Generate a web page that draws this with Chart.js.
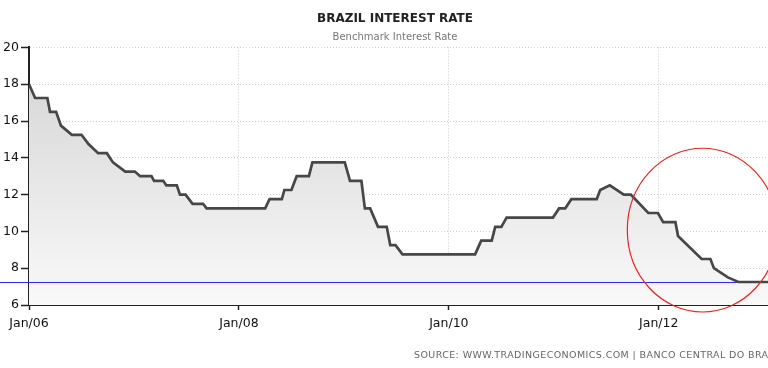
<!DOCTYPE html>
<html>
<head>
<meta charset="utf-8">
<script src="https://cdn.jsdelivr.net/npm/chart.js@4.4.0/dist/chart.umd.min.js"></script>
<style>
  html, body { margin: 0; padding: 0; background: #fff; overflow: hidden; }
  #wrap { position: relative; width: 796px; height: 368px; }
  #source { position: absolute; left: 414px; top: 349px; font: 9.5px 'DejaVu Sans'; color: #666; white-space: nowrap; letter-spacing: 0.4px; }
</style>
</head>
<body>
<div id="wrap">
  <canvas id="myChart" width="796" height="368"></canvas>
  <div id="source">SOURCE: WWW.TRADINGECONOMICS.COM | BANCO CENTRAL DO BRASIL</div>
</div>
<script>

// months since Jan/06 at each corner of the line
var months = [0, 0.7, 2.1, 2.4, 3.1, 3.65, 4.9, 6.0, 6.8, 7.9, 8.9, 9.6, 11.0, 12.1, 12.7, 14.0, 14.3,
  15.35, 15.7, 16.9, 17.26, 17.9, 18.7, 19.9, 20.3, 27.0, 27.5, 28.9, 29.2, 30.0, 30.6, 32.0, 32.4,
  36.1, 36.7, 38.0, 38.4, 39.0, 39.9, 40.9, 41.3, 41.9, 42.7, 51.0, 51.7, 52.9, 53.3, 54.0, 54.6,
  59.9, 60.6, 61.3, 62.0, 64.9, 65.3, 66.4, 68.0, 68.8, 70.8, 71.9, 72.5, 73.9, 74.2, 76.9, 77.9,
  78.3, 79.9, 81.1, 87]
var rates = [18, 17.25, 17.25, 16.5, 16.5, 15.75, 15.25, 15.25, 14.75, 14.25, 14.25, 13.75, 13.25, 13.25, 13.0, 13.0, 12.75,
  12.75, 12.5, 12.5, 12.0, 12.0, 11.5, 11.5, 11.25, 11.25, 11.75, 11.75, 12.25, 12.25, 13.0, 13.0, 13.75,
  13.75, 12.75, 12.75, 11.25, 11.25, 10.25, 10.25, 9.25, 9.25, 8.75, 8.75, 9.5, 9.5, 10.25, 10.25, 10.75,
  10.75, 11.25, 11.25, 11.75, 11.75, 12.25, 12.5, 12.0, 12.0, 11.0, 11.0, 10.5, 10.5, 9.75, 8.5, 8.5,
  8.0, 7.5, 7.25, 7.25]

var xTicks = [0, 24, 48, 72]   // Jan/06, Jan/08, Jan/10, Jan/12
var xMax = 87
var yMin = 6, yMax = 20, yStep = 2

var targetRate = 7.25                 // blue line
var circleAt = [77.0, 10.07, 8.6, 4.45] // red ring: month, rate, radius in months, radius in rate

var points = months.map((m, i) => ({x: m, y: rates[i]}))

var marks = {
  id: 'marks',
  beforeDatasetsDraw(chart){
    var ctx = chart.ctx
    var y = Math.round(chart.scales.y.getPixelForValue(targetRate)) + 0.5
    ctx.save()
    ctx.strokeStyle = '#2b2bff'
    ctx.lineWidth = 1
    ctx.beginPath()
    ctx.moveTo(0, y)
    ctx.lineTo(chart.width, y)
    ctx.stroke()
    ctx.restore()
  },
  afterDraw(chart){
    var ctx = chart.ctx
    var sx = chart.scales.x, sy = chart.scales.y
    var cx = sx.getPixelForValue(circleAt[0])
    var cy = sy.getPixelForValue(circleAt[1])
    var rx = sx.getPixelForValue(circleAt[0] + circleAt[2]) - cx
    var ry = cy - sy.getPixelForValue(circleAt[1] + circleAt[3])
    ctx.save()
    ctx.strokeStyle = '#e8251f'
    ctx.lineWidth = 1.2
    ctx.beginPath()
    ctx.ellipse(cx, cy, rx, ry, 0, 0, 2 * Math.PI)
    ctx.stroke()
    ctx.restore()
  }
}

var tickFont = {family: 'DejaVu Sans', size: 12.5}

const ctx = document.getElementById('myChart')

var myChart = new Chart(ctx, {
  type: 'line',
  data: {
    datasets: [{
      data: points,
      borderColor: '#474747',
      borderWidth: 2.7,
      pointRadius: 0,
      tension: 0,
      fill: 'start',
      backgroundColor: function(c){
        var a = c.chart.chartArea
        if(!a) return '#e6e6e6'
        var g = c.chart.ctx.createLinearGradient(0, a.top, 0, a.bottom)
        g.addColorStop(0, '#d3d3d3')
        g.addColorStop(1, '#f9f9f9')
        return g
      }
    }]
  },
  options: {
    responsive: false,
    animation: false,
    layout: { padding: { left: 0, right: 6, top: 0, bottom: 0 } },
    plugins: {
      filler: { drawTime: 'beforeDatasetsDraw' },
      legend: { display: false },
      tooltip: { enabled: false },
      title: {
        display: true,
        text: 'BRAZIL INTEREST RATE',
        color: '#222',
        font: { family: 'DejaVu Sans', size: 12, weight: 'bold' },
        padding: { top: 12, bottom: 4 }
      },
      subtitle: {
        display: true,
        text: 'Benchmark Interest Rate',
        color: '#777',
        font: { family: 'DejaVu Sans', size: 10 },
        padding: { top: 1, bottom: 4 }
      }
    },
    scales: {
      x: {
        type: 'linear',
        min: 0,
        max: xMax,
        afterBuildTicks: (s) => { s.ticks = xTicks.map(v => ({value: v})) },
        afterFit: (s) => { s.height = 63 },
        ticks: {
          autoSkip: false,
          maxRotation: 0,
          color: '#111',
          font: tickFont,
          padding: 6,
          callback: (v) => 'Jan/' + String(6 + v / 12).padStart(2, '0')
        },
        grid: { color: '#cccccc', tickColor: '#222', tickLength: 5, tickWidth: 1.5, tickBorderDash: [] },
        border: { color: '#222', width: 2, dash: [1, 2] }
      },
      y: {
        min: yMin,
        max: yMax,
        afterFit: (s) => { s.width = 29 },
        ticks: { stepSize: yStep, color: '#111', font: tickFont, padding: 2 },
        grid: { color: '#cccccc', tickColor: '#222', tickLength: 8, tickWidth: 1.5, tickBorderDash: [] },
        border: { color: '#222', width: 2, dash: [1, 2] }
      }
    }
  },
  plugins: [marks]
})

</script>
</body>
</html>
